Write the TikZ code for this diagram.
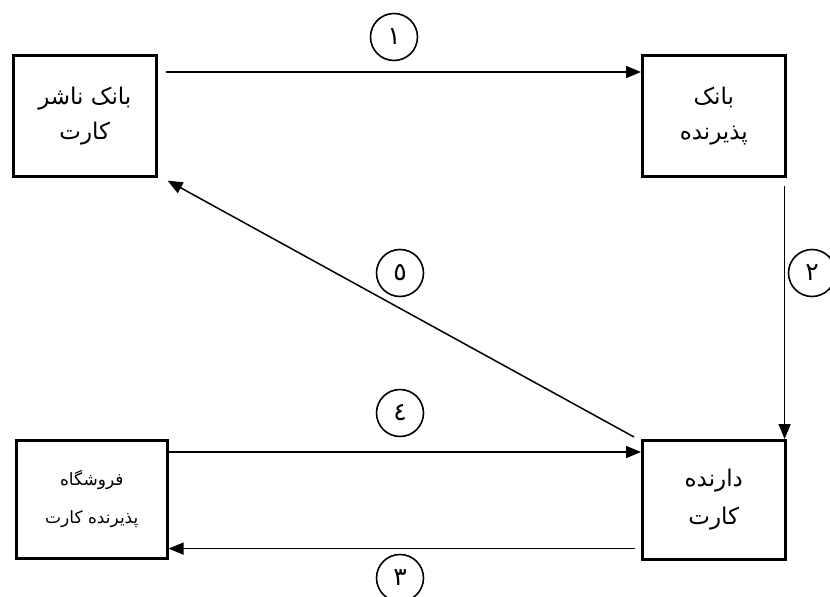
\documentclass[tikz,border=0pt]{standalone}
\usepackage{fontspec}
\newfontfamily\arabicfont[Script=Arabic]{DejaVu Sans}
\TeXXeTstate=1
\usetikzlibrary{arrows.meta,positioning}
\tikzset{
  boxnode/.style={draw,line width=2.6pt,anchor=north west,inner sep=0pt},
  boxtext/.style={align=center,font=\arabicfont\fontsize{23}{35}\selectfont},
  smalltext/.style={align=center,font=\arabicfont\fontsize{17}{38}\selectfont},
  arr/.style={line width=1.5pt,-{Triangle[length=15pt,width=12pt]}},
  numc/.style={draw,circle,line width=1.6pt,minimum size=47pt,inner sep=0pt,font=\arabicfont\fontsize{25}{26}\selectfont}
}
\begin{document}
\begin{tikzpicture}[x=1pt,y=-1pt]
\useasboundingbox (0,0) rectangle (830,597);
% boxes
\node[boxnode,minimum width=143pt,minimum height=121pt] (b1) at (12,54) {};
\node[boxnode,minimum width=143pt,minimum height=121pt] (b2) at (641,54) {};
\node[boxnode,minimum width=151pt,minimum height=118pt] (b3) at (15,439) {};
\node[boxnode,minimum width=143pt,minimum height=119pt] (b4) at (641,439) {};
% texts
\node[boxtext] (t1) at (b1.center) {\beginR بانک ناشر\endR\\\beginR کارت\endR};
\node[boxtext] (t2) at (b2.center) {\beginR بانک\endR\\\beginR پذیرنده\endR};
\node[smalltext] (t3) at (b3.center) {\beginR فروشگاه\endR\\\beginR پذیرنده کارت\endR};
\node[boxtext,font=\arabicfont\fontsize{23}{38}\selectfont] (t4) at (b4.center) {\beginR دارنده\endR\\\beginR کارت\endR};
% connectors
\draw[arr] ([shift={(8,18)}]b1.north east) -- ([shift={(0,18)}]b2.north west);
\draw[arr] ([shift={(-2,8)}]b2.south east) -- ([xshift=-2]b4.north east);
\draw[arr] ([shift={(-6,-12)}]b4.south west) -- ([shift={(0,-11)}]b3.south east);
\draw[arr] ([shift={(0,13)}]b3.north east) -- ([shift={(0,13)}]b4.north west);
\draw[arr] ([shift={(-7,-2)}]b4.north west) -- ([shift={(10,3)}]b1.south east);
% number circles
\node[numc] (c1) at (394,37) {\beginR ١\endR};
\node[numc] (c2) at (812,273) {\beginR ٢\endR};
\node[numc] (c3) at (400,578) {\beginR ٣\endR};
\node[numc] (c4) at (400,413) {\beginR ٤\endR};
\node[numc] (c5) at (400,273) {\beginR ٥\endR};
\end{tikzpicture}
\end{document}
